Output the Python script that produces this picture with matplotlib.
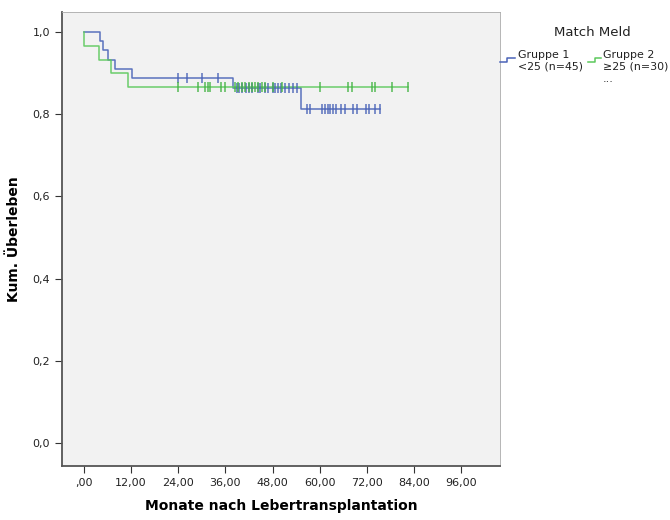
import numpy as np
import matplotlib.pyplot as plt
from matplotlib.lines import Line2D

# Kaplan-Meier Kurven, Werte (Monate)
g1_times = [0, 4.1, 4.9, 6.0, 7.9, 12.1, 38.0, 55.2, 75.3]
g1_surv = [1.0, 0.978, 0.956, 0.933, 0.911, 0.889, 0.864, 0.814, 0.814]
g1_censored = [24.0, 26.1, 30.1, 34.1,
               38.9, 39.5, 40.2, 41.2, 42.1, 42.7, 44.4, 44.8, 46.1, 46.8,
               48.0, 48.7, 49.4, 50.1, 51.1, 52.2, 53.3, 54.1,
               56.8, 57.5, 60.5, 61.3, 62.2, 62.7, 63.3, 64.1, 65.3, 66.4,
               68.4, 69.4, 71.9, 72.5, 74.0, 75.3]

g2_times = [0, 0, 3.9, 6.9, 11.1, 82.4]
g2_surv = [1.0, 0.967, 0.933, 0.900, 0.867, 0.867]
g2_censored = [24.0, 29.1, 30.8, 31.6, 32.2, 35.0, 35.9, 38.4, 39.3, 40.1,
               41.0, 42.1, 42.7, 43.5, 44.4, 45.2, 46.1, 48.2, 50.3, 60.1,
               67.3, 68.2, 73.2, 74.2, 78.3, 82.4]

x_ticks = [0, 12, 24, 36, 48, 60, 72, 84, 96]
x_labels = [",00", "12,00", "24,00", "36,00", "48,00", "60,00", "72,00", "84,00", "96,00"]
y_ticks = [0.0, 0.2, 0.4, 0.6, 0.8, 1.0]
y_labels = ["0,0", "0,2", "0,4", "0,6", "0,8", "1,0"]

blue = "#4a63b8"
green = "#5cc95c"


def level_at(times, surv, t):
    # Stufenwert der Kurve zum Zeitpunkt t
    idx = np.searchsorted(times, t, side="right") - 1
    return np.array(surv)[idx]


fig = plt.figure(figsize=(6.7, 5.2), dpi=100)
ax = fig.add_axes([62 / 670, 1 - 466 / 520, 438 / 670, 454 / 520])
ax.set_facecolor("#f2f2f2")

ax.step(g1_times, g1_surv, where="post", color=blue, lw=1.1, alpha=0.9)
ax.step(g2_times, g2_surv, where="post", color=green, lw=1.1, alpha=0.9)

g1_y = [level_at(g1_times, g1_surv, t) for t in g1_censored]
g2_y = [level_at(g2_times, g2_surv, t) for t in g2_censored]
ax.plot(g1_censored, g1_y, "|", color=blue, ms=7, mew=1.1, alpha=0.9)
ax.plot(g2_censored, g2_y, "|", color="#46b446", ms=7, mew=1.1, alpha=0.9)

ax.set_xlim(-5.6, 105.9)
ax.set_ylim(-0.056, 1.049)
ax.set_xticks(x_ticks)
ax.set_xticklabels(x_labels)
ax.set_yticks(y_ticks)
ax.set_yticklabels(y_labels)
ax.tick_params(labelsize=8, length=5, color="#333333", labelcolor="#222222")

for side in ["left", "bottom", "top", "right"]:
    ax.spines[side].set_color("#555555")
ax.spines["left"].set_linewidth(1.3)
ax.spines["bottom"].set_linewidth(1.3)
ax.spines["top"].set_linewidth(0.6)
ax.spines["right"].set_linewidth(0.6)
ax.spines["top"].set_color("#aaaaaa")
ax.spines["right"].set_color("#aaaaaa")

ax.set_xlabel("Monate nach Lebertransplantation", fontsize=10, fontweight="bold", labelpad=8)
ax.set_ylabel("Kum. Überleben", fontsize=10, fontweight="bold", labelpad=8)

# Legende rechts ausserhalb
W, H = 670, 520
fig.text(592 / W, 1 - 33 / H, "Match Meld", fontsize=9.5, ha="center", va="center", color="#222222")
fig.add_artist(Line2D([500 / W, 507 / W, 507 / W, 515 / W],
                      [1 - 62 / H, 1 - 62 / H, 1 - 58 / H, 1 - 58 / H],
                      color=blue, lw=1.1))
fig.add_artist(Line2D([588 / W, 595 / W, 595 / W, 601 / W],
                      [1 - 62 / H, 1 - 62 / H, 1 - 58 / H, 1 - 58 / H],
                      color=green, lw=1.1))
fig.text(518 / W, 1 - 61 / H, "Gruppe 1\n<25 (n=45)", fontsize=7.9, ha="left", va="center",
         linespacing=1.15, color="#222222")
fig.text(603 / W, 1 - 61 / H, "Gruppe 2\n≥25 (n=30)", fontsize=7.9, ha="left", va="center",
         linespacing=1.15, color="#222222")
fig.text(603 / W, 1 - 79 / H, "...", fontsize=8, ha="left", va="center", color="#222222")

fig.savefig("out.png", dpi=100)
